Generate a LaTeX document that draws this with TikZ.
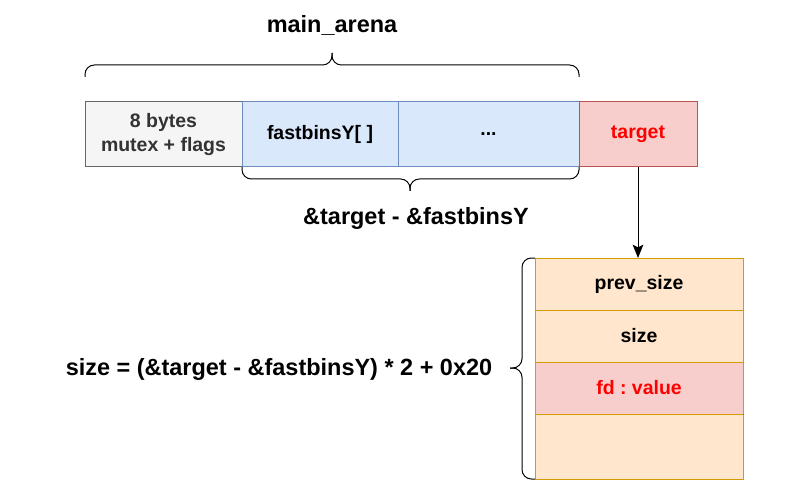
\documentclass[tikz,border=0pt]{standalone}
\usepackage{fontspec}
\setmainfont{Liberation Sans}
\usetikzlibrary{arrows.meta}
\definecolor{grayfill}{HTML}{F5F5F5}
\definecolor{graystroke}{HTML}{666666}
\definecolor{bluefill}{HTML}{DAE8FC}
\definecolor{bluestroke}{HTML}{6C8EBF}
\definecolor{redfill}{HTML}{F8CECC}
\definecolor{redstroke}{HTML}{B85450}
\definecolor{orangefill}{HTML}{FFE6CC}
\definecolor{orangestroke}{HTML}{D79B00}
\definecolor{textred}{HTML}{FF0000}
\tikzset{
  cell/.style={rectangle, inner sep=0pt, outer sep=0pt, line width=0.75pt,
    font=\fontsize{14.6}{17.5}\selectfont\bfseries\frenchspacing, align=center},
  graycell/.style={cell, draw=graystroke, fill=grayfill, text=black!80},
  bluecell/.style={cell, draw=bluestroke, fill=bluefill},
  redcell/.style={cell, draw=redstroke, fill=redfill, text=textred},
  chunkcell/.style={cell, draw=orangestroke, fill=orangefill, minimum width=156pt},
  biglabel/.style={font=\fontsize{17.6}{20}\selectfont\bfseries, inner sep=0pt},
  brace/.style={draw=black, line width=0.75pt, rounded corners=7pt},
}
\begin{document}
\begin{tikzpicture}[x=0.75pt, y=-0.75pt]
\useasboundingbox (0,0) rectangle (798,495);
% top row
\node[graycell, minimum width=117.75pt, minimum height=48.75pt] (mutex) at (163.5,134.5) {8 bytes\\mutex + flags};
\node[bluecell, minimum width=117pt, minimum height=48.75pt] (fast) at (320,134.5) {fastbinsY[ ]};
\node[bluecell, minimum width=135.75pt, minimum height=48.75pt] (dots) at (488.5,134.5) {...};
\node[redcell, minimum width=88.5pt, minimum height=48.75pt] (target) at (638,134.5) {target};
% chunk
\node[chunkcell, minimum height=39pt] (prev) at (639,284) {prev\_size};
\node[chunkcell, minimum height=39pt] (size) at (639,336) {size};
\node[chunkcell, minimum height=48.75pt] (empty) at (639,446.5) {};
\node[redcell, minimum width=156pt, minimum height=39pt] (fd) at (639,388) {fd : value};
\draw[orangestroke, line width=0.75pt] (fd.north west) -- (fd.north east);
\draw[orangestroke, line width=0.75pt] (fd.south west) -- (fd.south east);
\draw[orangestroke, line width=0.75pt] (fd.north west) -- (fd.south west);
\draw[orangestroke, line width=0.75pt] (fd.north east) -- (fd.south east);
% labels
\node[biglabel] (arena) at (332,25) {main\_arena};
\node[biglabel] (diff) at (416,218) {\&target - \&fastbinsY};
\node[biglabel] (formula) at (279,369) {size = (\&target - \&fastbinsY) * 2 + 0x20};
% braces
\coordinate (tb) at (332,53);
\draw[brace] (mutex.north west |- 0,77) -- (85,65) -- (332,65) -- (tb);
\draw[brace] (tb) -- (332,65) -- (579,65) -- (579,77);
\coordinate (bb) at (410,191);
\draw[brace] (fast.south west) -- (242,179) -- (410,179) -- (bb);
\draw[brace] (bb) -- (410,179) -- (579,179) -- (dots.south east);
\coordinate (lb) at (510,368);
\draw[brace] (prev.north west) -- (522,258) -- (522,368) -- (lb);
\draw[brace] (lb) -- (522,368) -- (522,479) -- (empty.south west);
% arrow
\draw[line width=0.75pt, -{Stealth[length=10pt, width=8pt, inset=2pt]}] (target.south) -- (prev.north -| target.south);
\end{tikzpicture}
\end{document}
